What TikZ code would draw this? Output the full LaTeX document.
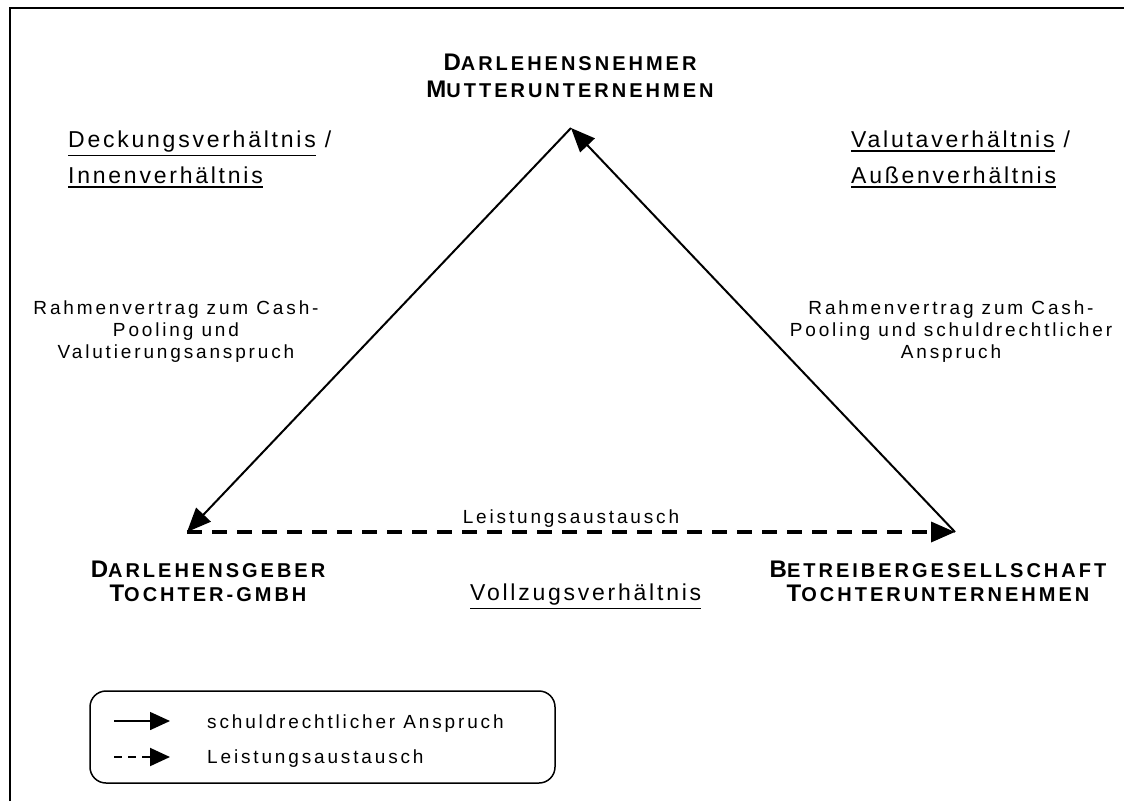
\documentclass[tikz,border=0pt]{standalone}
\usepackage{fontspec}
\setmainfont{Liberation Sans}
\newfontfamily\spfont[LetterSpace=15]{Liberation Sans}
\newfontfamily\midfont[LetterSpace=12]{Liberation Sans}
\usetikzlibrary{arrows.meta}
% underlined word with a heavy rule a little below the baseline
\newcommand\ulword[1]{\leavevmode\vtop{\hbox{#1}\kern3pt\hrule height1.5pt}}
% caps heading: large initial, smaller remaining capitals
\newcommand\hdr[2]{{\fontsize{24}{28}\selectfont#1}{\fontsize{20}{24}\selectfont#2}}

\begin{document}
\begin{tikzpicture}[x=1pt,y=-1pt,
  hd/.style={font=\spfont\bfseries, inner sep=0pt, anchor=base},
  mid/.style={font=\midfont\fontsize{23}{27}\selectfont, inner sep=0pt, anchor=base west},
  small/.style={font=\spfont\fontsize{19}{22}\selectfont, inner sep=0pt, align=center, anchor=base},
  lgtext/.style={font=\spfont\fontsize{19}{22}\selectfont, inner sep=0pt, anchor=base west},
  rel/.style={line width=2pt, -{Triangle[length=24pt,width=20pt]}},
  flow/.style={line width=3.5pt, dash pattern=on 15pt off 10pt, -{Triangle[length=24pt,width=20pt]}},
  lgrel/.style={line width=1.5pt, -{Triangle[length=20pt,width=18pt]}},
  lgflow/.style={line width=2pt, dash pattern=on 8pt off 6pt, -{Triangle[length=20pt,width=18pt]}},
]
\useasboundingbox (0,0) rectangle (1124,801);

% outer frame (only top and left edges lie inside the picture)
\draw[line width=1.5pt] (10,801) -- (10,8) -- (1124,8);

% corners of the triangle
\coordinate (mutter) at (571,128);
\coordinate (geber) at (187,532);
\coordinate (betreiber) at (955,532);

% headings at the corners
\node[hd] (h1a) at (570,70) {\hdr{D}{ARLEHENSNEHMER}};
\node[hd] (h1b) at (570,97) {\hdr{M}{UTTERUNTERNEHMEN}};
\node[hd] (h2a) at (208,577) {\hdr{D}{ARLEHENSGEBER}};
\node[hd] (h2b) at (208,601) {\hdr{T}{OCHTER-GMBH}};
\node[hd] (h3a) at (938,577) {\hdr{B}{ETREIBERGESELLSCHAFT}};
\node[hd] (h3b) at (938,601) {\hdr{T}{OCHTERUNTERNEHMEN}};

% relationship names
\node[mid] (deck) at (68,147) {\ulword{Deckungsverhältnis} /};
\node[mid] (innen) at (68,183) {\ulword{Innenverhältnis}};
\node[mid] (valuta) at (851,147) {\ulword{Valutaverhältnis} /};
\node[mid] (aussen) at (851,183) {\ulword{Außenverhältnis}};
\node[mid] (vollzug) at (470,600) {\ulword{Vollzugsverhältnis}};

% arrow labels (base anchor sits on the last line)
\node[small] (lab1) at (176,358) {Rahmenvertrag zum Cash-\\Pooling und\\Valutierungsanspruch};
\node[small] (lab2) at (951,358) {Rahmenvertrag zum Cash-\\Pooling und schuldrechtlicher\\Anspruch};
\node[lgtext, anchor=base] (lab3) at (571,523) {Leistungsaustausch};

% connectors
\draw[rel] (mutter) -- (geber);
\draw[rel] (betreiber) -- (mutter);
\draw[flow] (geber) -- (betreiber);

% legend
\draw[line width=1.5pt, rounded corners=16pt] (90,691) rectangle (555,783);
\coordinate (l1s) at (114,721);
\coordinate (l1e) at (170,721);
\coordinate (l2s) at (114,757);
\coordinate (l2e) at (170,757);
\draw[lgrel] (l1s) -- (l1e);
\draw[lgflow] (l2s) -- (l2e);
\node[lgtext] (lg1) at (207,728) {schuldrechtlicher Anspruch};
\node[lgtext] (lg2) at (207,763) {Leistungsaustausch};
\end{tikzpicture}
\end{document}
